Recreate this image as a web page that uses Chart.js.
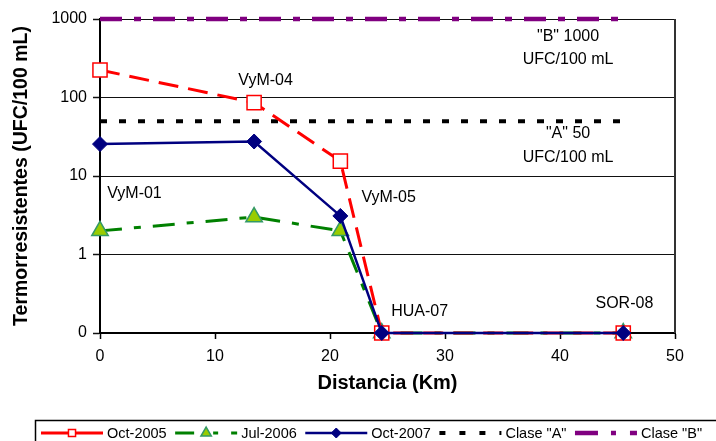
<!DOCTYPE html>
<html lang="es">
<head>
  <meta charset="UTF-8">
  <title>Termorresistentes vs distancia</title>
  <style>
    html, body { margin: 0; padding: 0; background: #fff; }
    canvas { display: block; }
  </style>
</head>
<body>
  <canvas id="chart" width="716" height="441"></canvas>

  <script src="https://cdn.jsdelivr.net/npm/chart.js"></script>
  <script>
    // Datos (distancia en km, UFC/100 mL; 0 se dibuja en el minimo del eje)
    const distance = [0, 13.4, 20.9, 24.5, 45.5];
    const oct2005 = [224, 86, 15.5, 0.1, 0.1];
    const jul2006 = [2, 3, 2, 0.1, 0.1];
    const oct2007 = [25.5, 27.5, 3.1, 0.1, 0.1];
    const claseA = 50;
    const claseB = 1000;
    const claseRange = [0, 45.5];
    const yTicks = [0.1, 1, 10, 100, 1000];
    const stations = ['VyM-01', 'VyM-04', 'VyM-05', 'HUA-07', 'SOR-08'];
    const limitNotes = ['"B" 1000', 'UFC/100 mL', '"A" 50', 'UFC/100 mL'];

    const FONT = 'Arial, "Liberation Sans", sans-serif';

    const toPoints = vals => vals.map((v, i) => ({ x: distance[i], y: v }));
    const flat = v => claseRange.map(x => ({ x: x, y: v }));

    // textos sobre el grafico (coordenadas en unidades de los ejes)
    const notesPlugin = {
      id: 'notes',
      beforeDatasetsDraw(chart) {
        const { ctx, chartArea } = chart;
        ctx.save();
        ctx.strokeStyle = '#333';
        ctx.lineWidth = 2;
        ctx.beginPath();
        ctx.moveTo(chartArea.right, chartArea.top);
        ctx.lineTo(chartArea.right, chartArea.bottom);
        ctx.stroke();
        ctx.restore();
      },
      afterDatasetsDraw(chart, args, opts) {
        const { ctx, scales } = chart;
        ctx.save();
        ctx.fillStyle = '#000';
        ctx.font = '16px ' + FONT;
        ctx.textAlign = 'center';
        ctx.textBaseline = 'middle';
        stations.forEach((s, i) => {
          const p = opts.stationPos[i];
          ctx.fillText(s, scales.x.getPixelForValue(p[0]), scales.y.getPixelForValue(p[1]));
        });
        limitNotes.forEach((s, i) => {
          const p = opts.notePos[i];
          ctx.fillText(s, scales.x.getPixelForValue(p[0]), scales.y.getPixelForValue(p[1]));
        });
        ctx.restore();
      }
    };

    // leyenda con recuadro, como en la figura original
    const boxLegend = {
      id: 'boxLegend',
      afterDraw(chart, args, opts) {
        const ctx = chart.ctx;
        const drawPoint = Chart.helpers.drawPoint;
        ctx.save();
        ctx.strokeStyle = '#000';
        ctx.lineWidth = 1.5;
        ctx.strokeRect(opts.left + 0.5, opts.top + 0.5, 720, 40);
        ctx.font = '14.5px ' + FONT;
        ctx.textBaseline = 'middle';
        ctx.textAlign = 'left';
        let x = opts.left + 6;
        const cy = opts.top + 13;
        const sw = 62;
        chart.data.datasets.forEach(ds => {
          ctx.strokeStyle = ds.borderColor;
          ctx.lineWidth = ds.borderWidth;
          ctx.lineCap = 'butt';
          ctx.setLineDash(ds.legendDash || []);
          ctx.beginPath();
          ctx.moveTo(x, cy);
          ctx.lineTo(x + sw, cy);
          ctx.stroke();
          ctx.setLineDash([]);
          if (ds.pointRadius) {
            ctx.fillStyle = ds.pointBackgroundColor;
            ctx.strokeStyle = ds.pointBorderColor;
            ctx.lineWidth = ds.pointBorderWidth;
            drawPoint(ctx, { pointStyle: ds.pointStyle, radius: ds.legendRadius, rotation: 0, borderWidth: ds.pointBorderWidth }, x + sw / 2, cy);
          }
          ctx.fillStyle = '#000';
          ctx.fillText(ds.label, x + sw + 4, cy + 1);
          x += sw + 4 + ctx.measureText(ds.label).width + 8.5;
        });
        ctx.restore();
      }
    };

    new Chart(document.getElementById('chart'), {
      type: 'line',
      data: {
        datasets: [
          {
            label: 'Oct-2005', data: toPoints(oct2005), order: 2, clip: false,
            borderColor: '#ff0000', borderWidth: 3, borderDash: [20, 10], legendDash: [],
            pointStyle: 'rect', pointRadius: 10, legendRadius: 5,
            pointBackgroundColor: '#ffffff', pointBorderColor: '#ff0000', pointBorderWidth: 1.5
          },
          {
            label: 'Jul-2006', data: toPoints(jul2006), order: 3, clip: false,
            borderColor: '#008000', borderWidth: 3, borderDash: [22, 12, 7, 12], legendDash: [19, 19, 5, 13, 8],
            pointStyle: 'triangle', pointRadius: 9.5, legendRadius: 6,
            pointBackgroundColor: '#99cc00', pointBorderColor: '#339966', pointBorderWidth: 1.5
          },
          {
            label: 'Oct-2007', data: toPoints(oct2007), order: 1, clip: false,
            borderColor: '#000080', borderWidth: 2.5, borderDash: [], legendDash: [],
            pointStyle: 'rectRot', pointRadius: 7.5, legendRadius: 5,
            pointBackgroundColor: '#000080', pointBorderColor: '#000080', pointBorderWidth: 1
          },
          {
            label: 'Clase "A"', data: flat(claseA), order: 4, clip: false,
            borderColor: '#000000', borderWidth: 4, borderDash: [7, 12], legendDash: [6, 14],
            pointRadius: 0
          },
          {
            label: 'Clase "B"', data: flat(claseB), order: 5, clip: false,
            borderColor: '#800080', borderWidth: 4.5, borderDash: [22, 12, 7, 12], legendDash: [23, 13, 5, 14, 10],
            pointRadius: 0
          }
        ]
      },
      options: {
        responsive: false,
        animation: false,
        events: [],
        layout: { padding: { top: 19, right: 41, left: 0, bottom: 0 } },
        elements: { line: { tension: 0, borderCapStyle: 'butt', fill: false } },
        scales: {
          x: {
            type: 'linear', min: 0, max: 50,
            afterFit: s => { s.height = 108; },
            ticks: { stepSize: 10, color: '#000', font: { family: FONT, size: 16 }, padding: 8 },
            grid: { drawOnChartArea: false, color: '#000', tickLength: 6, tickWidth: 1.5 },
            border: { color: '#000', width: 2 },
            title: {
              display: true, text: 'Distancia (Km)', color: '#000',
              font: { family: FONT, size: 20, weight: 'bold' }, padding: { top: 0, bottom: 46 }
            }
          },
          y: {
            type: 'logarithmic', min: 0.1, max: 1000,
            afterFit: s => { s.width = 100; },
            afterBuildTicks: s => { s.ticks = yTicks.map(v => ({ value: v })); },
            ticks: {
              color: '#000', font: { family: FONT, size: 16 }, padding: 6,
              callback: v => (v < 1 ? '0' : String(v))
            },
            grid: { color: '#111', lineWidth: 1, tickLength: 7, tickWidth: 1.5 },
            border: { color: '#000', width: 2 },
            title: {
              display: true, text: 'Termorresistentes (UFC/100 mL)', color: '#000',
              font: { family: FONT, size: 19.5, weight: 'bold' }, padding: { top: 10, bottom: 0 }
            }
          }
        },
        plugins: {
          legend: { display: false },
          tooltip: { enabled: false },
          notes: {
            stationPos: [[3.0, 6.0], [14.4, 166], [25.1, 5.25], [27.8, 0.185], [45.6, 0.24]],
            notePos: [[40.7, 589], [40.7, 300], [40.7, 34.3], [40.7, 17.4]]
          },
          boxLegend: { left: 35, top: 420 }
        }
      },
      plugins: [notesPlugin, boxLegend]
    });
  </script>
</body>
</html>
